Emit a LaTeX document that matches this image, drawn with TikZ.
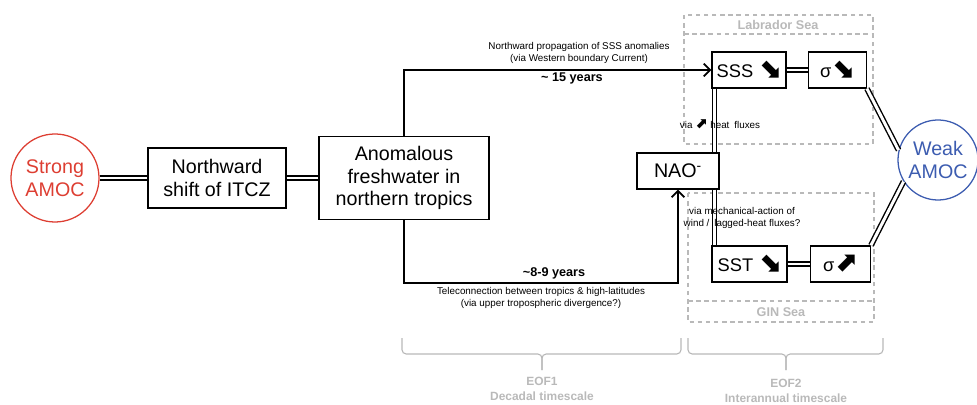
\documentclass[tikz,border=0pt]{standalone}
\usepackage{fontspec}
\setmainfont{Liberation Sans}
\newfontfamily\arrowfont{DejaVu Sans}
\usetikzlibrary{arrows.meta, positioning}

\definecolor{amocred}{RGB}{221,62,50}
\definecolor{amocblue}{RGB}{60,92,176}
\definecolor{seagray}{RGB}{185,185,185}

\newcommand{\trenddown}{\scalebox{1.5}{\arrowfont\bfseries ⬊}}
\newcommand{\trendup}{\scalebox{1.5}{\arrowfont\bfseries ⬈}}

\begin{document}
\begin{tikzpicture}[
    x=0.025cm, y=-0.025cm,
    font=\fontsize{14}{16}\selectfont,
    amoc/.style={circle, draw, line width=0.9pt, minimum size=2.2cm, inner sep=0pt, align=center},
    procbox/.style={rectangle, draw=black, line width=0.9pt, inner sep=0pt, align=center},
    seabox/.style={draw=seagray, line width=0.75pt, dash pattern=on 3.2pt off 2.6pt},
    seatitle/.style={text=seagray, inner sep=0pt, align=center, font=\fontsize{9}{10}\selectfont\bfseries},
    note/.style={font=\fontsize{7}{8}\selectfont, align=center, inner sep=0pt},
    years/.style={font=\fontsize{9}{10}\selectfont\bfseries, inner sep=0pt},
    link/.style={double, line width=1pt, double distance=2.1pt},
    arr/.style={-{Straight Barb[length=4.5pt, width=9pt, line width=1.3pt]}, line width=1pt},
    brc/.style={draw=seagray, line width=0.8pt, rounded corners=3pt}
]
\useasboundingbox (0,0) rectangle (977,405);

% sea regions
\draw[seabox] (684,15) rectangle (873,144);
\draw[seabox] (684,34) -- (873,34);
\node[seatitle] (labsea) at (778,24.5) {Labrador Sea};
\draw[seabox] (688,193) rectangle (874,322);
\draw[seabox] (688,301) -- (874,301);
\node[seatitle] (ginsea) at (781,312) {GIN Sea};

% main chain
\node[amoc, draw=amocred, text=amocred] (strong) at (55,178) {Strong\\AMOC};
\node[procbox, minimum width=3.45cm, minimum height=1.5cm] (itcz) at (217,178) {Northward\\shift of ITCZ};
\node[procbox, minimum width=4.25cm, minimum height=2.075cm] (fresh) at (404,178) {Anomalous\\freshwater in\\northern tropics};
\node[procbox, minimum width=2.05cm, minimum height=0.9cm] (nao) at (678,171) {NAO\textsuperscript{-}};
\node[amoc, draw=amocblue, text=amocblue, minimum size=2cm] (weak) at (938,160) {Weak\\AMOC};

% high latitude boxes
\node[procbox, minimum width=1.85cm, minimum height=0.9cm, font=\fontsize{13}{15}\selectfont] (sss) at (749,70) {SSS \trenddown};
\node[procbox, minimum width=1.45cm, minimum height=0.9cm, font=\fontsize{13}{15}\selectfont, right=0.525cm of sss] (sigL) {σ\trenddown};
\node[procbox, minimum width=1.875cm, minimum height=0.9cm, font=\fontsize{13}{15}\selectfont] (sst) at (749.5,264) {SST \trenddown};
\node[procbox, minimum width=1.5cm, minimum height=0.9cm, font=\fontsize{13}{15}\selectfont, right=0.55cm of sst] (sigG) {σ\trendup};

% links
\draw[link] (strong) -- (itcz);
\draw[link] (itcz) -- (fresh);
\draw[link] (sss) -- (sigL);
\draw[link] (sst) -- (sigG);
\coordinate (vx) at (714.5,0);
\draw[link] (sss.south -| vx) -- (nao.north -| vx);
\draw[link] (nao.south -| vx) -- (sst.north -| vx);
\draw[link] (sigL.south east) -- (weak.166);
\draw[link] (sigG.north east) -- (weak.212);

% pathways
\draw[arr] (fresh.north) |- (sss.west);
\coordinate (tele) at (404,283);
\draw[arr] (fresh.south) -- (tele) -| (nao.south);

\node[note] (wbc) at (579,53) {Northward propagation of SSS anomalies\\(via Western boundary Current)};
\node[years] (slow) at (572,78) {\textasciitilde{} 15 years};
\node[years] (fast) at (554,273) {\textasciitilde8-9 years};
\node[note] (telenote) at (541,298) {Teleconnection between tropics \& high-latitudes\\(via upper tropospheric divergence?)};
\node[note] (heatnote) at (720,124) {via \trendup{} heat\enspace fluxes};
\node[note] (windnote) at (742,218) {via mechanical-action of\\wind /\enspace lagged-heat fluxes?};

% timescales
\draw[brc] (402,338) |- (542,354) -- (542,370);
\draw[brc] (681,338) |- (542,354) -- (542,370);
\draw[brc] (688,338) |- (786,354) -- (786,370);
\draw[brc] (883,338) |- (786,354) -- (786,370);
\node[seatitle, font=\fontsize{8.5}{10.5}\selectfont\bfseries] (eof1) at (542,389) {EOF1\\Decadal timescale};
\node[seatitle, font=\fontsize{8.5}{10.5}\selectfont\bfseries] (eof2) at (786,391) {EOF2\\Interannual timescale};
\end{tikzpicture}
\end{document}
